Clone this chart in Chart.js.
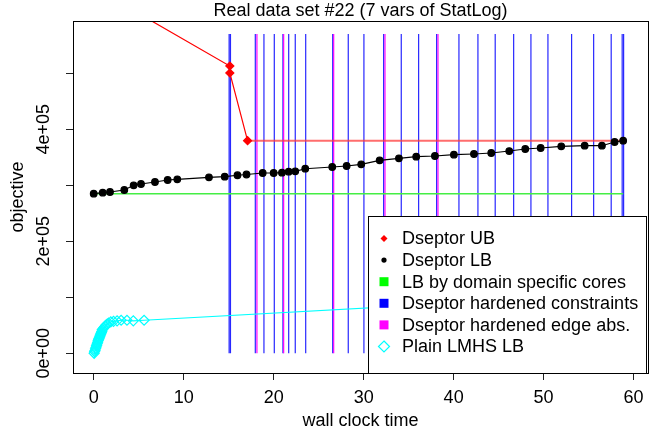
<!DOCTYPE html>
<html>
<head>
<meta charset="utf-8">
<script src="https://cdn.jsdelivr.net/npm/chart.js@4/dist/chart.umd.min.js"></script>
<style>
  html, body { margin: 0; padding: 0; background: #fff; }
  #wrap { width: 663px; height: 435px; }
</style>
</head>
<body>
<div id="wrap"><canvas id="chart" width="663" height="435"></canvas></div>
<script>
// Dseptor upper bound
const ubTime = [0, 15.13, 15.13, 17.1, 58.84];
const ubValue = [653000, 513000, 500500, 379600, 379600];

// Dseptor lower bound
const lbTime = [0, 1.0, 1.81, 3.4, 4.44, 5.26, 6.81, 8.22, 9.29, 12.81, 14.56, 15.98, 16.98,
  18.78, 20.0, 20.92, 21.67, 22.4, 23.51, 26.51, 28.11, 29.73, 31.78, 33.92, 35.84, 37.92,
  40.03, 42.26, 44.18, 46.18, 47.96, 49.67, 51.96, 54.56, 56.48, 57.89, 58.84];
const lbValue = [285000, 286800, 288000, 291600, 300000, 302300, 305900, 309500, 310700, 314300,
  315400, 317900, 319300, 322000, 322000, 322500, 324300, 325000, 329600, 332700, 334500, 337500,
  344600, 348200, 351100, 352300, 354600, 355900, 357700, 361200, 364800, 366600, 369600, 370700,
  370700, 377300, 379600];

// LB by domain specific cores
const coreTime = [0, 58.84];
const coreValue = [285000, 285000];

// times of hardened constraints / hardened edge abstractions
const hardTimes = [15.05, 15.2, 17.96, 18.92, 20.07, 21.03, 21.67, 22.4, 23.56, 26.56, 28.29,
  30.03, 32.22, 34.18, 36.11, 38.11, 40.59, 42.7, 44.62, 46.67, 48.59, 50.48, 53.11, 55.56,
  57.51, 58.73, 58.89];
const edgeTimes = [18.14, 21.11, 26.67, 32.37, 38.26];
const markTop = 570000;

// Plain LMHS lower bound
const plainTime = [0.05, 0.1, 0.15, 0.2, 0.25, 0.3, 0.35, 0.4, 0.45, 0.5, 0.55, 0.6, 0.65, 0.7,
  0.75, 0.8, 0.85, 0.9, 0.95, 1.05, 1.15, 1.25, 1.35, 1.5, 1.65, 1.9, 2.2, 2.6, 3.05, 3.7, 4.4,
  5.6, 58.84];
const plainValue = [0, 3000, 5000, 8000, 10000, 13000, 15000, 18000, 20000, 23000, 25000, 27000,
  29000, 31000, 33000, 35000, 37000, 39000, 42000, 44000, 46000, 48000, 50000, 52000, 54000,
  56000, 57000, 58000, 59000, 59000, 58000, 59000, 106000];

const xTicks = [0, 10, 20, 30, 40, 50, 60];
const yTicks = [0, 100000, 200000, 300000, 400000, 500000];
const yTickLabels = ['0e+00', '', '2e+05', '', '4e+05', ''];

const FONT = '"Liberation Sans", Arial, sans-serif';

const pts = (xs, ys) => xs.map((x, i) => ({ x, y: ys[i] }));
const vlines = ts => ts.flatMap(t => [{ x: t, y: 0 }, { x: t, y: markTop }, { x: t, y: null }]);

const datasets = [
  { label: 'Dseptor UB', data: pts(ubTime, ubValue), borderColor: '#ff0000', backgroundColor: '#ff0000',
    borderWidth: 1.2, pointStyle: 'rectRot', pointRadius: ubTime.map((t, i) => i === ubTime.length - 1 ? 0 : 4),
    segment: { borderColor: c => c.p0DataIndex >= 3 ? 'rgba(255,60,60,0.75)' : '#ff0000',
               borderWidth: c => c.p0DataIndex >= 3 ? 2 : 1.2 },
    order: 2 },
  { label: 'Dseptor LB', data: pts(lbTime, lbValue), borderColor: '#000', backgroundColor: '#000',
    borderWidth: 1.2, pointStyle: 'circle', pointRadius: 3.3, order: 1 },
  { label: 'LB by domain specific cores', data: pts(coreTime, coreValue), borderColor: '#44ee44',
    backgroundColor: '#00ff00', borderWidth: 1.5, pointRadius: 0, order: 4 },
  { label: 'Dseptor hardened constraints', data: vlines(hardTimes), borderColor: '#2828ff',
    backgroundColor: '#0000ff', borderWidth: 1.2, pointRadius: 0, spanGaps: false, order: 6 },
  { label: 'Dseptor hardened edge abs.', data: vlines(edgeTimes), borderColor: '#ff00ff',
    backgroundColor: '#ff00ff', borderWidth: 1.2, pointRadius: 0, spanGaps: false, order: 5 },
  { label: 'Plain LMHS LB', data: pts(plainTime, plainValue), borderColor: '#00ffff',
    backgroundColor: 'rgba(0,0,0,0)', borderWidth: 1.2, pointStyle: 'rectRot',
    pointRadius: plainTime.map((t, i) => i === plainTime.length - 1 ? 0 : 5), pointBorderColor: '#00ffff',
    pointBorderWidth: 1.2, order: 3 }
];

// legend marker per dataset
const legendMarks = [
  { style: 'diamond', r: 3.5, fill: '#ff0000' },
  { style: 'circle', r: 2.6, fill: '#000' },
  { style: 'rect', fill: '#00ff00' },
  { style: 'rect', fill: '#0000ff' },
  { style: 'rect', fill: '#ff00ff' },
  { style: 'diamond', r: 5.5, stroke: '#00ffff' }
];

const decor = {
  id: 'decor',
  afterDraw(chart) {
    const { ctx, chartArea: a, scales } = chart;
    ctx.save();
    // box
    ctx.strokeStyle = '#000';
    ctx.lineWidth = 1;
    ctx.strokeRect(a.left + 0.5, a.top + 0.5, a.right - a.left, a.bottom - a.top);

    ctx.fillStyle = '#000';
    ctx.font = '18px ' + FONT;
    ctx.textAlign = 'center';
    ctx.textBaseline = 'middle';
    const cx = (a.left + a.right) / 2;
    const cy = (a.top + a.bottom) / 2;
    ctx.fillText('Real data set #22 (7 vars of StatLog)', cx, 11);
    ctx.fillText('wall clock time', cx, 421);

    // y labels
    ctx.save();
    ctx.translate(18, cy);
    ctx.rotate(-Math.PI / 2);
    ctx.fillText('objective', 0, 0);
    ctx.restore();
    yTicks.forEach((v, i) => {
      if (!yTickLabels[i]) return;
      const py = scales.y.getPixelForValue(v);
      ctx.save();
      ctx.translate(44, py);
      ctx.rotate(-Math.PI / 2);
      ctx.fillText(yTickLabels[i], 0, 0);
      ctx.restore();
    });

    // legend
    const lx = 368, ly = 216, lw = 278, lh = a.bottom - ly;
    ctx.fillStyle = '#fff';
    ctx.fillRect(lx, ly, lw, lh);
    ctx.strokeStyle = '#000';
    ctx.lineWidth = 1;
    ctx.strokeRect(lx + 0.5, ly + 0.5, lw, lh);
    ctx.textAlign = 'left';
    datasets.forEach((d, i) => {
      const y = 238.5 + i * 21.6;
      const m = legendMarks[i];
      ctx.beginPath();
      if (m.style === 'rect') {
        ctx.rect(384 - 4.5, y - 4.5, 9, 9);
      } else if (m.style === 'circle') {
        ctx.arc(384, y, m.r, 0, Math.PI * 2);
      } else {
        ctx.moveTo(384, y - m.r); ctx.lineTo(384 + m.r, y); ctx.lineTo(384, y + m.r); ctx.lineTo(384 - m.r, y); ctx.closePath();
      }
      if (m.fill) { ctx.fillStyle = m.fill; ctx.fill(); }
      if (m.stroke) { ctx.strokeStyle = m.stroke; ctx.lineWidth = 1.2; ctx.stroke(); }
      ctx.fillStyle = '#000';
      ctx.fillText(d.label, 402, y + 1);
    });
    ctx.restore();
  }
};

new Chart(document.getElementById('chart'), {
  type: 'scatter',
  data: { datasets: datasets.map(d => ({ showLine: true, ...d })) },
  options: {
    responsive: false,
    animation: false,
    layout: { padding: { left: 0, right: 15, top: 21, bottom: 0 } },
    plugins: { legend: { display: false }, title: { display: false }, tooltip: { enabled: false } },
    scales: {
      x: {
        type: 'linear', min: -2.3, max: 61.6,
        afterBuildTicks: s => { s.ticks = xTicks.map(v => ({ value: v })); },
        afterFit: s => { s.height = 62; },
        ticks: { font: { family: FONT, size: 18 }, color: '#000', padding: 7, maxRotation: 0, autoSkip: false },
        grid: { drawOnChartArea: false, drawTicks: true, tickLength: 7, color: '#222' },
        border: { display: false }
      },
      y: {
        type: 'linear', min: -35200, max: 593400,
        afterBuildTicks: s => { s.ticks = yTicks.map(v => ({ value: v })); },
        afterFit: s => { s.width = 73; },
        ticks: { display: false },
        grid: { drawOnChartArea: false, drawTicks: true, tickLength: 7, color: '#222' },
        border: { display: false }
      }
    }
  },
  plugins: [decor]
});
</script>
</body>
</html>
